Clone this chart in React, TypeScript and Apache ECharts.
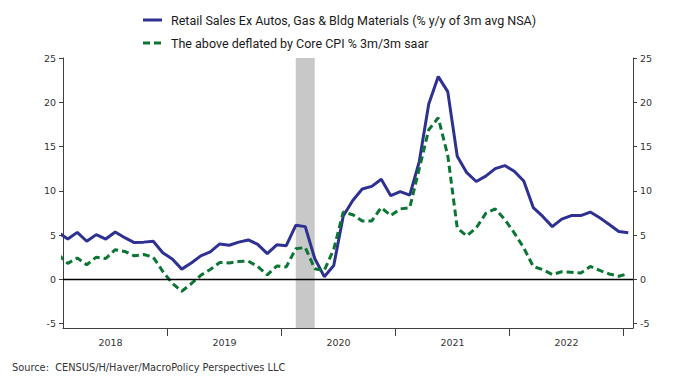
import React, { useEffect, useRef } from "react";
import * as echarts from "echarts";

// Monthly observations, Jan 2018 .. Jan 2023
const firstYear = 2018;
const retailSales = [
  5.3, 4.55, 5.3, 4.3, 5.05, 4.55, 5.35, 4.7, 4.15, 4.2, 4.3, 3.0,
  2.3, 1.15, 1.85, 2.65, 3.1, 4.0, 3.85, 4.2, 4.45, 3.95, 2.9, 3.9,
  3.8, 6.1, 5.95, 2.35, 0.3, 1.55, 7.15, 8.9, 10.2, 10.5, 11.3, 9.45,
  9.9, 9.5, 13.3, 19.8, 22.9, 21.2, 13.9, 12.05, 11.05, 11.65, 12.5, 12.85,
  12.2, 11.1, 8.1, 7.1, 5.95, 6.8, 7.2, 7.2, 7.6, 6.95, 6.2, 5.4,
  5.25,
];
const deflated = [
  2.8, 1.8, 2.4, 1.65, 2.5, 2.35, 3.35, 3.15, 2.65, 2.8, 2.5, 0.9,
  -0.45, -1.35, -0.5, 0.45, 1.1, 1.9, 1.85, 2.0, 2.05, 1.45, 0.5, 1.5,
  1.4, 3.45, 3.6, 1.2, 1.0, 3.4, 7.6, 7.3, 6.6, 6.6, 8.1, 7.2,
  7.95, 8.1, 12.5, 16.9, 18.25, 14.0, 5.8, 4.9, 5.8, 7.45, 7.95, 6.75,
  5.25, 3.55, 1.45, 1.1, 0.55, 0.85, 0.8, 0.7, 1.45, 1.0, 0.6, 0.35,
  0.65,
];
const yearLabels = ["2018", "2019", "2020", "2021", "2022"];
const yTicks = [-5, 0, 5, 10, 15, 20, 25];
const recessionMonths = [25, 27]; // Feb 2020 .. Apr 2020 (month index from Jan 2018)
const seriesNames = [
  "Retail Sales Ex Autos, Gas & Bldg Materials (% y/y of 3m avg NSA)",
  "The above deflated by Core CPI % 3m/3m saar",
];
const sourceText = "Source:  CENSUS/H/Haver/MacroPolicy Perspectives LLC";

const BLUE = "#2e3192";
const GREEN = "#0b7634";
const AXIS = "#404040";
const LABEL = "#333333";
const AXIS_FONT = "'DejaVu Sans', Verdana, sans-serif";
const LEGEND_FONT = "'Liberation Sans Narrow', 'Roboto', Arial, sans-serif";

export default function App() {
  const ref = useRef<HTMLDivElement>(null);
  useEffect(() => {
    const chart = echarts.init(ref.current!, null, { renderer: "svg" });
    const toPairs = (arr: number[]) => arr.map((v, i) => [i + 0.5, v]);
    const yearTicks = yearLabels.map((_, k) => 12 * (k + 1));
    const yearCenters = yearLabels.map((_, k) => 12 * k + 6);
    const yAxisBase = (position: "left" | "right") => ({
      type: "value",
      position,
      min: -5.5,
      max: 25,
      axisLine: { show: true, onZero: false, lineStyle: { color: AXIS, width: 1 } },
      axisTick: { show: true, customValues: yTicks, length: 4, lineStyle: { color: AXIS } },
      axisLabel: {
        customValues: yTicks,
        margin: 7,
        color: LABEL,
        fontSize: 9.5,
        fontFamily: AXIS_FONT,
      },
      splitLine: { show: false },
    });
    const option: any = {
      animation: false,
      grid: { left: 63, right: 60, top: 58, bottom: 49, containLabel: false },
      xAxis: {
        type: "value",
        min: 1,
        max: 61,
        axisLine: { show: true, onZero: false, lineStyle: { color: AXIS, width: 1 } },
        axisTick: { show: true, customValues: yearTicks, length: 8, lineStyle: { color: AXIS } },
        axisLabel: {
          customValues: yearCenters,
          formatter: (v: number) => yearLabels[Math.round((v - 6) / 12)] ?? "",
          margin: 9,
          color: LABEL,
          fontSize: 9.5,
          fontFamily: AXIS_FONT,
        },
        splitLine: { show: false },
      },
      yAxis: [yAxisBase("left"), yAxisBase("right")],
      series: [
        {
          type: "line",
          data: [],
          z: 1,
          silent: true,
          markArea: {
            silent: true,
            itemStyle: { color: "#c8c8c8" },
            data: [[{ xAxis: recessionMonths[0] + 0.5 }, { xAxis: recessionMonths[1] + 0.5 }]],
          },
        },
        {
          type: "line",
          data: [],
          z: 2,
          silent: true,
          markLine: {
            silent: true,
            symbol: "none",
            label: { show: false },
            lineStyle: { color: "#000000", width: 1.4, type: "solid" },
            data: [{ yAxis: 0 }],
          },
        },
        {
          name: seriesNames[0],
          type: "line",
          data: toPairs(retailSales),
          symbol: "none",
          z: 3,
          lineStyle: { color: BLUE, width: 3 },
        },
        {
          name: seriesNames[1],
          type: "line",
          data: toPairs(deflated),
          symbol: "none",
          z: 4,
          lineStyle: { color: GREEN, width: 3, type: [7, 4] },
        },
      ],
      graphic: [
        {
          type: "line",
          shape: { x1: 143, y1: 20, x2: 162, y2: 20 },
          style: { stroke: BLUE, lineWidth: 3 },
        },
        {
          type: "line",
          shape: { x1: 143, y1: 43, x2: 162, y2: 43 },
          style: { stroke: GREEN, lineWidth: 3, lineDash: [7, 4] },
        },
        {
          type: "text",
          x: 171,
          y: 20,
          style: {
            text: seriesNames[0],
            fill: "#1a1a1a",
            font: `12.5px ${LEGEND_FONT}`,
            verticalAlign: "middle",
          },
        },
        {
          type: "text",
          x: 171,
          y: 43,
          style: {
            text: seriesNames[1],
            fill: "#1a1a1a",
            font: `12.5px ${LEGEND_FONT}`,
            verticalAlign: "middle",
          },
        },
        {
          type: "text",
          x: 12,
          y: 367,
          style: {
            text: sourceText,
            fill: LABEL,
            font: `9.8px ${AXIS_FONT}`,
            verticalAlign: "middle",
          },
        },
      ],
    };
    chart.setOption(option);
    return () => chart.dispose();
  }, []);
  return (
    <div
      ref={ref}
      style={{ position: "fixed", left: 0, top: 0, width: 693, height: 377, background: "#fff" }}
    />
  );
}
